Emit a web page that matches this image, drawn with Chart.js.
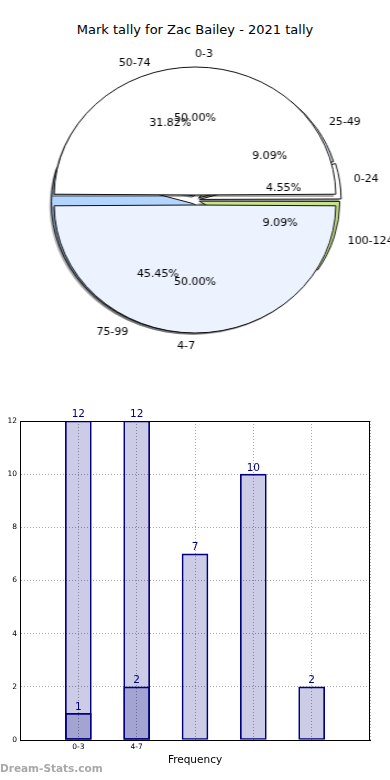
<!DOCTYPE html>
<html>
<head>
<meta charset="utf-8">
<script src="https://cdn.jsdelivr.net/npm/chart.js@4.4.1/dist/chart.umd.min.js"></script>
<style>
  html, body { margin: 0; padding: 0; background: #fff; }
  body { width: 390px; height: 780px; position: relative; overflow: hidden; font-family: "DejaVu Sans", sans-serif; }
  #title { position: absolute; top: 22px; left: 0; width: 390px; text-align: center; font-size: 13px; line-height: 16px; color: #000; }
  #pieWrap { position: absolute; left: 0; top: 40px; width: 390px; height: 320px; transform: scaleX(1.1); transform-origin: 195px 160px; }
  #pieWrap canvas { position: absolute; left: 0; top: 0; }
  #barWrap { position: absolute; left: 0; top: 400px; width: 390px; height: 380px; }
  #mark { position: absolute; left: 0; top: 762px; font-size: 10.5px; font-weight: bold; color: #a8a8a8; }
</style>
</head>
<body>
<div id="title">Mark tally for Zac Bailey - 2021 tally</div>
<div id="pieWrap">
  <canvas id="backPie" width="390" height="320"></canvas>
  <canvas id="frontPie" width="390" height="320"></canvas>
</div>
<div id="barWrap"><canvas id="barChart" width="390" height="380"></canvas></div>
<div id="mark">Dream-Stats.com</div>
<script>
// mark tally (front pie, tall bars)
const tallyCategories = ['0-3', '4-7'];
const tallyCounts = [12, 12];
const tallyColors = ['#ffffff', '#ecf2fe'];

// disposal ranges (back pie, short bars)
const rangeCategories = ['0-24', '25-49', '50-74', '75-99', '100-124'];
const rangeCounts = [1, 2, 7, 10, 2];
const rangeColors = ['#ffffff', '#e2eaf9', '#ffffff', '#b3d4fc', '#c8e28a'];

const yTicks = [0, 2, 4, 6, 8, 10, 12];

const SX = 1.1; // the original pie is a bit wider than tall

function drawLabel(ctx, text, x, y, align) {
    ctx.save();
    ctx.translate(x, y);
    ctx.scale(1 / SX, 1);
    ctx.textAlign = align;
    ctx.textBaseline = 'middle';
    ctx.fillText(text, 0, 0);
    ctx.restore();
}

function arcGeometry(arc) {
    const mid = (arc.startAngle + arc.endAngle) / 2;
    const shift = (arc.options.offset || 0) / 4;
    const circ = arc.endAngle - arc.startAngle;
    const r = arc.outerRadius + shift * (1 - Math.sin(Math.min(Math.PI, circ)));
    return { mid, shift, r };
}

function drawPieLabels(ctx, chart) {
    const ds = chart.data.datasets[0];
    const total = ds.data.reduce((a, b) => a + b, 0);
    ctx.save();
    ctx.font = '11px "DejaVu Sans"';
    ctx.fillStyle = '#000';
    chart.getDatasetMeta(0).data.forEach((arc, i) => {
        const g = arcGeometry(arc);
        const c = Math.cos(g.mid), s = Math.sin(g.mid);
        let align;
        if (c > 1e-6) align = 'left';
        else if (c < -1e-6) align = 'right';
        else align = s < 0 ? 'left' : 'right';
        const lr = g.shift + 1.1 * g.r;
        drawLabel(ctx, chart.data.labels[i], arc.x + c * lr, arc.y + s * lr, align);
        const pr = g.shift + 0.6 * g.r;
        const pct = (ds.data[i] / total * 100).toFixed(2) + '%';
        drawLabel(ctx, pct, arc.x + c * pr, arc.y + s * pr, 'center');
    });
    ctx.restore();
}

// gray copy of the slices, shifted down-left, like matplotlib's shadow=True
const pieShadow = {
    id: 'pieShadow',
    beforeDatasetsDraw(chart) {
        const ctx = chart.ctx;
        ctx.save();
        ctx.filter = 'blur(0.6px)';
        ctx.fillStyle = 'rgba(0,0,0,0.33)';
        ctx.translate(-2 / SX, 2);
        chart.getDatasetMeta(0).data.forEach(arc => {
            const g = arcGeometry(arc);
            const cx = arc.x + Math.cos(g.mid) * g.shift;
            const cy = arc.y + Math.sin(g.mid) * g.shift;
            ctx.beginPath();
            ctx.moveTo(cx, cy);
            ctx.arc(cx, cy, g.r, arc.startAngle, arc.endAngle);
            ctx.closePath();
            ctx.fill();
        });
        ctx.restore();
    }
};

const pieOptions = (rotation, radius) => ({
    responsive: false,
    animation: false,
    events: [],
    rotation: rotation,
    radius: radius,
    layout: { padding: 0 },
    plugins: { legend: { display: false }, tooltip: { enabled: false } }
});

// matplotlib goes counter-clockwise from 3 o'clock, Chart.js clockwise
const backChart = new Chart(document.getElementById('backPie'), {
    type: 'pie',
    data: {
        labels: rangeCategories.slice().reverse(),
        datasets: [{
            data: rangeCounts.slice().reverse(),
            backgroundColor: rangeColors.slice().reverse(),
            borderColor: '#111',
            borderWidth: 1,
            offset: 16
        }]
    },
    options: pieOptions(90, 126),
    plugins: [pieShadow]
});

const frontChart = new Chart(document.getElementById('frontPie'), {
    type: 'pie',
    data: {
        labels: tallyCategories,
        datasets: [{
            data: tallyCounts,
            backgroundColor: tallyColors,
            borderColor: '#111',
            borderWidth: 1,
            offset: 20
        }]
    },
    options: pieOptions(-90, 123),
    plugins: [pieShadow, {
        id: 'allPieLabels',
        afterDatasetsDraw(chart) {
            drawPieLabels(chart.ctx, backChart);
            drawPieLabels(chart.ctx, chart);
        }
    }]
});

// bar chart: one empty slot at each end
const slots = ['', ...tallyCategories, '', '', '', ''];
const pad = (arr) => slots.map((_, i) => (i >= 1 && i <= arr.length ? arr[i - 1] : null));

const barFrame = {
    id: 'barFrame',
    afterDatasetsDraw(chart) {
        const ctx = chart.ctx;
        const a = chart.chartArea;
        ctx.save();
        ctx.strokeStyle = '#000';
        ctx.lineWidth = 1;
        ctx.strokeRect(Math.round(a.left) + 0.5, Math.round(a.top) + 0.5,
            Math.round(a.right - a.left) - 1, Math.round(a.bottom - a.top));
        ctx.font = '10.5px "DejaVu Sans"';
        ctx.fillStyle = '#000080';
        ctx.textAlign = 'center';
        ctx.textBaseline = 'bottom';
        chart.data.datasets.forEach((ds, d) => {
            chart.getDatasetMeta(d).data.forEach((bar, i) => {
                if (ds.data[i] == null) return;
                ctx.fillText(ds.data[i], bar.x, bar.y - 1);
            });
        });
        ctx.restore();
    }
};

const barStyle = {
    backgroundColor: 'rgba(0,0,128,0.2)',
    borderColor: '#000080',
    borderWidth: 1,
    borderSkipped: false,
    barThickness: 26,
    grouped: false
};

new Chart(document.getElementById('barChart'), {
    type: 'bar',
    data: {
        labels: slots,
        datasets: [
            Object.assign({ label: 'Tally', data: pad(tallyCounts) }, barStyle),
            Object.assign({ label: 'Range', data: pad(rangeCounts) }, barStyle)
        ]
    },
    options: {
        responsive: false,
        animation: false,
        events: [],
        layout: { padding: { top: 21, right: 20, left: 0, bottom: 0 } },
        plugins: { legend: { display: false }, tooltip: { enabled: false } },
        scales: {
            x: {
                offset: false,
                grid: { offset: false, color: '#a8a8a8', drawTicks: false },
                border: { color: '#000', dash: [1, 2] },
                ticks: { autoSkip: false, maxRotation: 0, padding: 3, color: '#000', font: { family: 'DejaVu Sans', size: 7.5 } },
                title: { display: true, text: 'Frequency', color: '#000', font: { family: 'DejaVu Sans', size: 10.5 }, padding: { top: 0, bottom: 13 } },
                afterFit(scale) { scale.height = 40; }
            },
            y: {
                min: yTicks[0],
                max: yTicks[yTicks.length - 1],
                afterBuildTicks(scale) { scale.ticks = yTicks.map(v => ({ value: v })); },
                grid: { color: '#a8a8a8', drawTicks: false },
                border: { color: '#000', dash: [1, 2] },
                ticks: { padding: 3, color: '#000', font: { family: 'DejaVu Sans', size: 7.5 } },
                afterFit(scale) { scale.width = 20; }
            }
        }
    },
    plugins: [barFrame]
});
</script>
</body>
</html>
